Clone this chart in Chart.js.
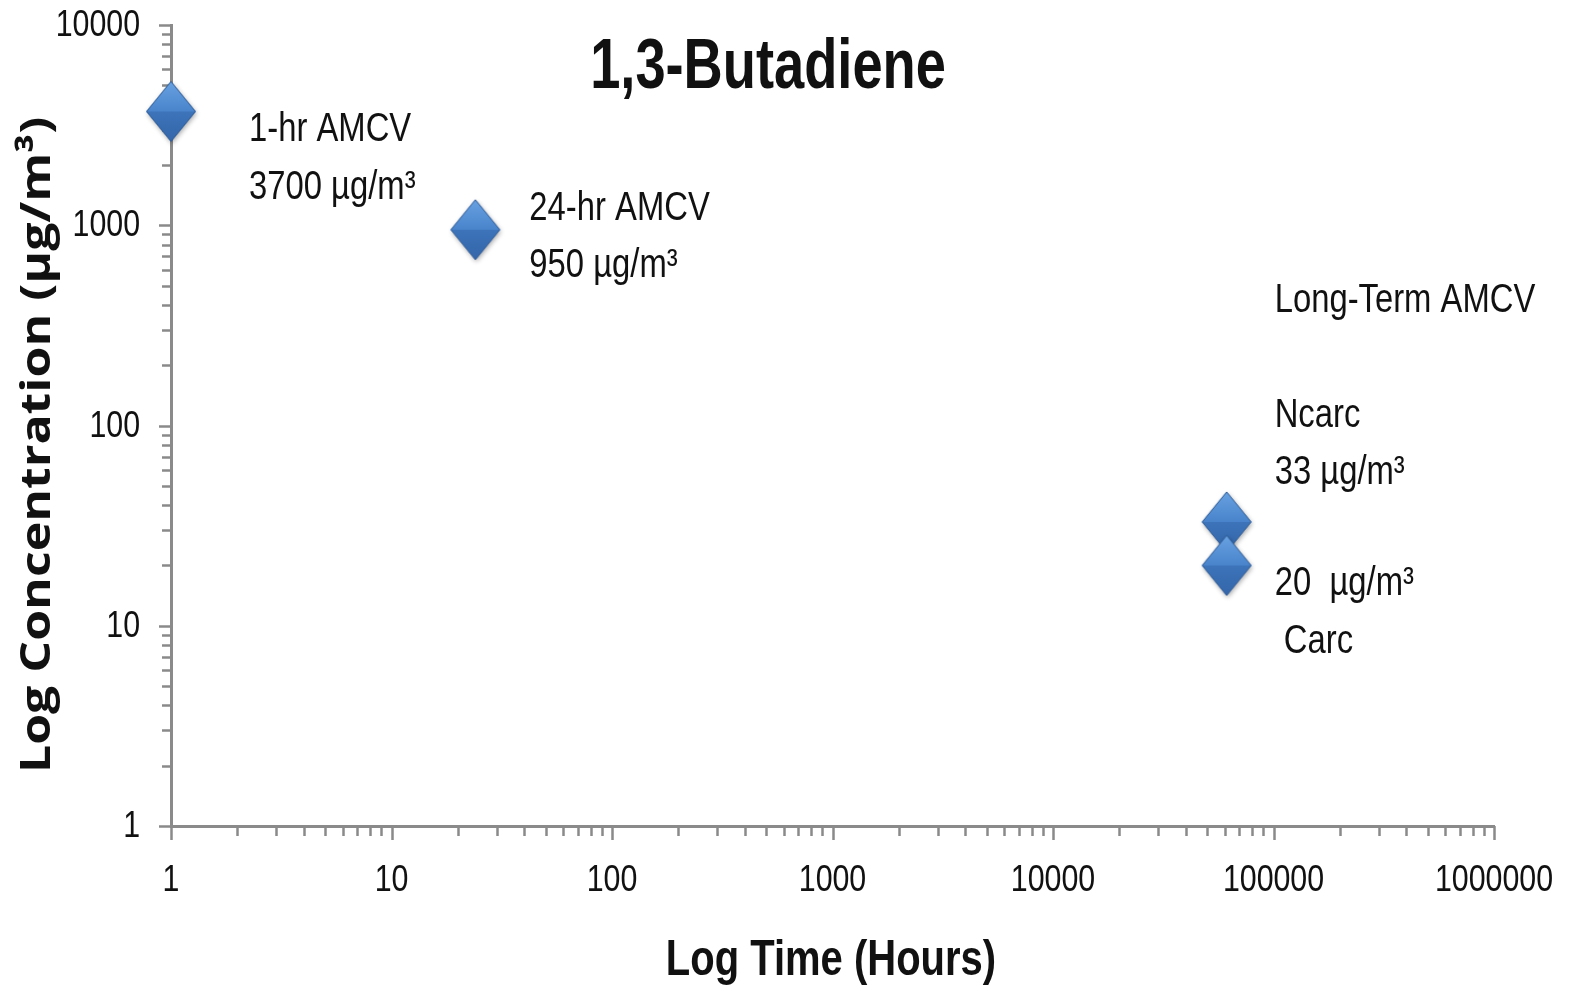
<!DOCTYPE html>
<html>
<head>
<meta charset="utf-8">
<script src="https://cdn.jsdelivr.net/npm/chart.js@4.4.1/dist/chart.umd.min.js"></script>
<style>
  html, body { margin: 0; padding: 0; background: #fff; }
  #wrap { width: 1572px; height: 991px; }
</style>
</head>
<body>
<div id="wrap"><canvas id="chart"></canvas></div>
<script>
// data
const hours = [1, 24, 61320, 61320];
const concentrations = [3700, 950, 33, 20];
const noteLines = [
  ['1-hr AMCV', '3700 µg/m³'],
  ['24-hr AMCV', '950 µg/m³'],
  ['Long-Term AMCV', '', 'Ncarc', '33 µg/m³'],
  ['20  µg/m³', ' Carc']
];
const xTickValues = [1, 10, 100, 1000, 10000, 100000, 1000000];
const yTickValues = [1, 10, 100, 1000, 10000];

const chartTitle = '1,3-Butadiene';
const xTitle = 'Log Time (Hours)';
const yTitle = 'Log Concentration (µg/m³)';

const FONT = '"Liberation Sans", Arial, sans-serif';
const AXIS_GRAY = '#8a8a8a';
const INK = '#111';

// diamond marker drawn on a small canvas
function makeDiamond() {
  const c = document.createElement('canvas');
  c.width = 64; c.height = 78;
  const g = c.getContext('2d');
  const cx = 32, cy = 39, hw = 24.5, hh = 30;
  const outline = () => {
    g.beginPath();
    g.moveTo(cx, cy - hh); g.lineTo(cx + hw, cy); g.lineTo(cx, cy + hh); g.lineTo(cx - hw, cy);
    g.closePath();
  };
  g.save();
  g.shadowColor = 'rgba(0,0,0,0.35)';
  g.shadowBlur = 5; g.shadowOffsetX = 1; g.shadowOffsetY = 2;
  outline(); g.fillStyle = '#3f74b8'; g.fill();
  g.restore();
  // top half
  let grd = g.createLinearGradient(0, cy - hh, 0, cy);
  grd.addColorStop(0, '#69a2e2'); grd.addColorStop(1, '#4984cc');
  g.beginPath(); g.moveTo(cx, cy - hh); g.lineTo(cx + hw, cy); g.lineTo(cx - hw, cy); g.closePath();
  g.fillStyle = grd; g.fill();
  // bottom half
  grd = g.createLinearGradient(0, cy, 0, cy + hh);
  grd.addColorStop(0, '#3d74ba'); grd.addColorStop(1, '#3466aa');
  g.beginPath(); g.moveTo(cx - hw, cy); g.lineTo(cx + hw, cy); g.lineTo(cx, cy + hh); g.closePath();
  g.fillStyle = grd; g.fill();
  outline(); g.strokeStyle = '#2f5c97'; g.lineWidth = 1; g.stroke();
  return c;
}

function isDecade(v) {
  const l = Math.log10(v);
  return Math.abs(l - Math.round(l)) < 1e-9;
}

// the reference font is narrow (Calibri-like), so squeeze text horizontally
function narrowText(ctx, text, x, y, sx) {
  ctx.save();
  ctx.translate(x, y);
  ctx.scale(sx, 1);
  ctx.fillText(text, 0, 0);
  ctx.restore();
}

// tick marks: 1..9 per decade, outward
const tickMarks = {
  id: 'tickMarks',
  beforeDatasetsDraw(chart) {
    const ctx = chart.ctx, xs = chart.scales.x, ys = chart.scales.y;
    ctx.save();
    ctx.strokeStyle = AXIS_GRAY;
    ctx.lineWidth = 2.5;
    ctx.beginPath();
    for (let e = 0; e < 6; e++) {
      for (let k = 1; k <= 10; k++) {
        const v = k * Math.pow(10, e);
        const p = Math.round(xs.getPixelForValue(v)) + 0.5;
        ctx.moveTo(p, xs.top);
        ctx.lineTo(p, xs.top + (isDecade(v) ? 14 : 10));
      }
    }
    for (let e = 0; e < 4; e++) {
      for (let k = 1; k <= 10; k++) {
        const v = k * Math.pow(10, e);
        const p = Math.round(ys.getPixelForValue(v)) + 0.5;
        ctx.moveTo(ys.right, p);
        ctx.lineTo(ys.right - (isDecade(v) ? 12 : 9), p);
      }
    }
    ctx.stroke();
    ctx.restore();
  }
};

// tick labels, titles and point notes
const textLayer = {
  id: 'textLayer',
  afterDraw(chart) {
    const ctx = chart.ctx, xs = chart.scales.x, ys = chart.scales.y;
    ctx.save();
    ctx.fillStyle = INK;

    // tick labels
    ctx.font = '37px ' + FONT;
    ctx.textBaseline = 'middle';
    ctx.textAlign = 'center';
    xs.ticks.forEach(t => {
      narrowText(ctx, String(t.value), xs.getPixelForValue(t.value), xs.top + 55, 0.82);
    });
    ctx.textAlign = 'right';
    ys.ticks.forEach(t => {
      narrowText(ctx, String(t.value), ys.right - 31, ys.getPixelForValue(t.value) + 1, 0.82);
    });

    ctx.textBaseline = 'alphabetic';
    ctx.textAlign = 'center';
    ctx.font = 'bold 70px ' + FONT;
    narrowText(ctx, chartTitle, 768, 88, 0.775);

    ctx.font = 'bold 50px ' + FONT;
    narrowText(ctx, xTitle, 831, 975, 0.8);

    ctx.save();
    ctx.translate(50, 445);
    ctx.rotate(-Math.PI / 2);
    ctx.font = 'bold 42px "Open Sans", "DejaVu Sans", sans-serif';
    narrowText(ctx, yTitle, 0, 0, 1.19);
    ctx.restore();

    // notes next to each marker
    const offsets = [[78, 30], [54, -10], [48, -210], [48, 30]];
    ctx.textAlign = 'left';
    ctx.font = '41px ' + FONT;
    noteLines.forEach((lines, i) => {
      const px = xs.getPixelForValue(hours[i]);
      const py = ys.getPixelForValue(concentrations[i]);
      lines.forEach((t, j) => {
        narrowText(ctx, t, px + offsets[i][0], py + offsets[i][1] + j * 57.5, 0.8);
      });
    });
    ctx.restore();
  }
};

new Chart(document.getElementById('chart'), {
  type: 'scatter',
  data: {
    datasets: [{
      data: hours.map((h, i) => ({ x: h, y: concentrations[i] })),
      pointStyle: makeDiamond(),
      clip: false
    }]
  },
  options: {
    responsive: true,
    maintainAspectRatio: false,
    animation: false,
    layout: { padding: { left: 0, right: 78, top: 25, bottom: 0 } },
    plugins: {
      legend: { display: false },
      tooltip: { enabled: false },
      title: { display: false }
    },
    scales: {
      x: {
        type: 'logarithmic',
        min: 1, max: 1000000,
        afterBuildTicks: s => { s.ticks = xTickValues.map(v => ({ value: v })); },
        afterFit: s => { s.height = 165; s.paddingLeft = 0; s.paddingRight = 0; },
        grid: { display: false, drawTicks: false },
        border: { display: true, color: AXIS_GRAY, width: 3 },
        ticks: { display: false }
      },
      y: {
        type: 'logarithmic',
        min: 1, max: 10000,
        afterBuildTicks: s => { s.ticks = yTickValues.map(v => ({ value: v })); },
        afterFit: s => { s.width = 171; s.paddingTop = 0; s.paddingBottom = 0; },
        grid: { display: false, drawTicks: false },
        border: { display: true, color: AXIS_GRAY, width: 3 },
        ticks: { display: false }
      }
    }
  },
  plugins: [tickMarks, textLayer]
});
</script>
</body>
</html>
